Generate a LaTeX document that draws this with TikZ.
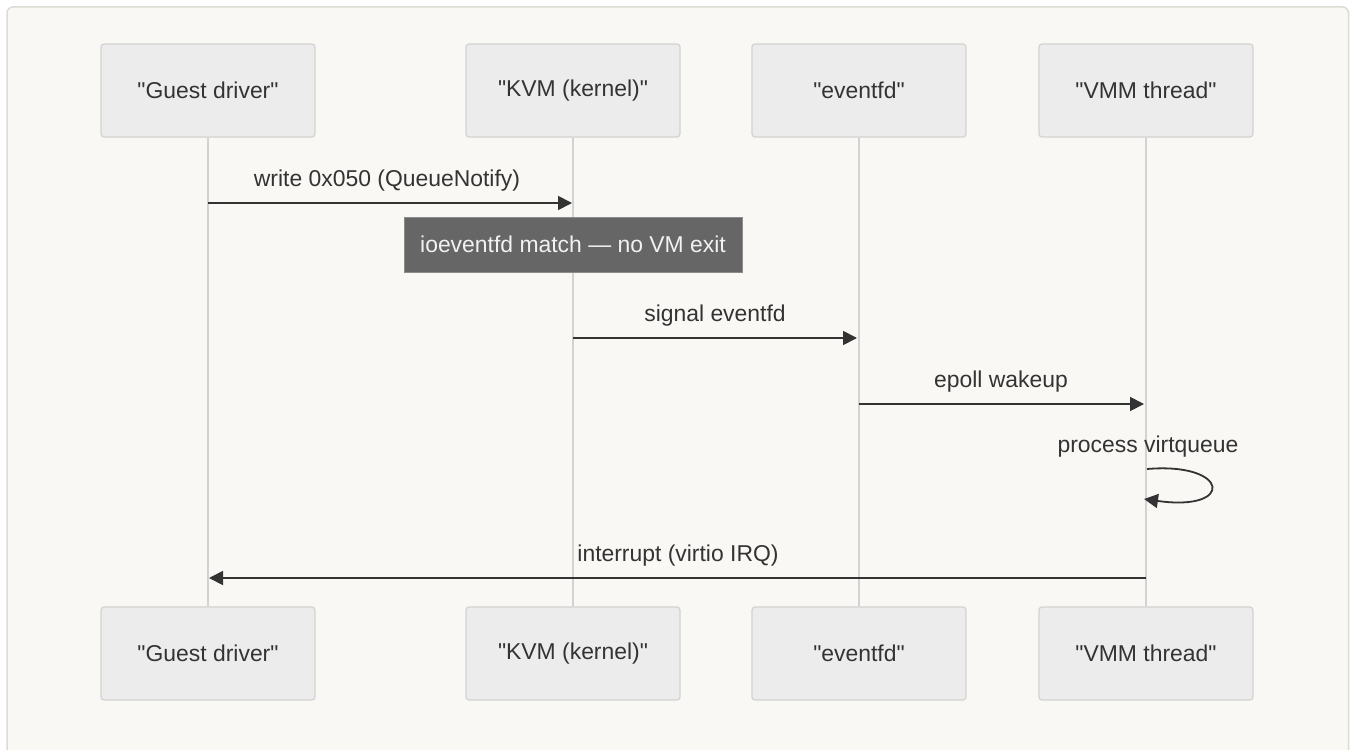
\documentclass[tikz,border=0pt]{standalone}
\usepackage{fontspec}
\setmainfont{Liberation Sans}[Ligatures=TeXOff]
\usetikzlibrary{arrows.meta}
\definecolor{pagebg}{HTML}{F9F8F5}
\definecolor{frameline}{HTML}{DDDBD4}
\definecolor{actorfill}{HTML}{ECECEC}
\definecolor{actorline}{HTML}{D3D3D3}
\definecolor{lifeline}{HTML}{D2D2D2}
\definecolor{ink}{HTML}{333333}
\definecolor{notefill}{HTML}{666666}
\definecolor{noteline}{HTML}{8C8C8C}
\tikzset{
  actor/.style={draw=actorline, line width=1.2bp, fill=actorfill, rounded corners=3bp,
    minimum width=214bp, minimum height=93bp, inner sep=0pt, text=ink,
    font=\fontsize{23}{28}\selectfont},
  life/.style={draw=lifeline, line width=2bp},
  msg/.style={draw=ink, line width=1.8bp, -{Triangle[length=14bp,width=14bp]}},
  msglabel/.style={text=ink, font=\fontsize{23}{28}\selectfont, inner sep=0pt},
  notebox/.style={draw=noteline, line width=1bp, fill=notefill, text=white!95!black,
    minimum width=338bp, minimum height=55bp, inner sep=0pt,
    font=\fontsize{23}{28}\selectfont}
}
\begin{document}
\begin{tikzpicture}[x=1bp, y=-1bp]
  \useasboundingbox (0,0) rectangle (1351,749);
  % panel
  \fill[white] (0,0) rectangle (1351,749);
  \draw[frameline, line width=1.5bp, fill=pagebg, rounded corners=6bp] (7,7) rectangle (1348.5,770);

  % participants, top and bottom
  \node[actor] (gt) at (208,90.5) {"Guest driver"};
  \node[actor] (kt) at (573,90.5) {"KVM (kernel)"};
  \node[actor] (et) at (859,90.5) {"eventfd"};
  \node[actor] (vt) at (1146,90.5) {"VMM thread"};
  \node[actor] (gb) at (208,653.5) {"Guest driver"};
  \node[actor] (kb) at (573,653.5) {"KVM (kernel)"};
  \node[actor] (eb) at (859,653.5) {"eventfd"};
  \node[actor] (vb) at (1146,653.5) {"VMM thread"};

  % lifelines
  \draw[life] (gt.south) -- (gb.north);
  \draw[life] (kt.south) -- (kb.north);
  \draw[life] (et.south) -- (eb.north);
  \draw[life] (vt.south) -- (vb.north);

  % message anchor points on the lifelines
  \coordinate (g1) at (208,203);   \coordinate (k1) at (572,203);
  \coordinate (k2) at (573,338);   \coordinate (e2) at (857,338);
  \coordinate (e3) at (859,404);   \coordinate (v3) at (1144,404);
  \coordinate (v4) at (1147,469);  \coordinate (v4e) at (1144,499);
  \coordinate (v5) at (1146,578);  \coordinate (g5) at (209,578);

  % write to the notify register
  \node[msglabel] (l1) at (387,181) {write 0x050 (QueueNotify)};
  \draw[msg] (g1) -- (k1);

  % in-kernel match
  \node[notebox] (n1) at (573,244.5) {ioeventfd match — no VM exit};

  % kernel signals the eventfd
  \node[msglabel] (l2) at (715,316) {signal eventfd};
  \draw[msg] (k2) -- (e2);

  % VMM thread wakes up
  \node[msglabel] (l3) at (1001,382) {epoll wakeup};
  \draw[msg] (e3) -- (v3);

  % self call
  \node[msglabel] (l4) at (1148,447) {process virtqueue};
  \draw[msg] (v4) .. controls (1230,462) and (1235,512) .. (v4e);

  % completion interrupt back to the guest
  \node[msglabel] (l5) at (678,556) {interrupt (virtio IRQ)};
  \draw[msg] (v5) -- (g5);
\end{tikzpicture}
\end{document}
